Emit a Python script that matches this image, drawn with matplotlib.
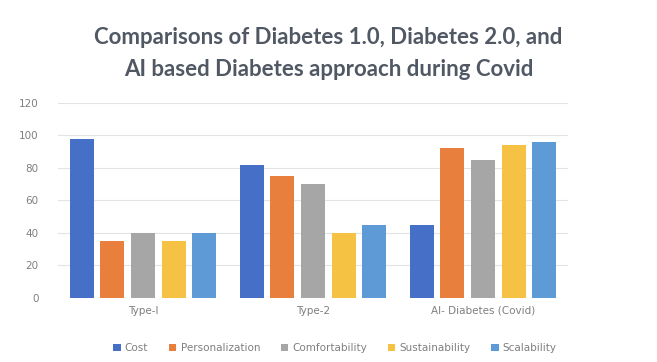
import numpy as np
import matplotlib
matplotlib.use("Agg")
import matplotlib.pyplot as plt

# data
categories = ['Type-I', 'Type-2', 'AI- Diabetes (Covid)']
series = ['Cost', 'Personalization', 'Comfortability', 'Sustainability', 'Scalability']
cost = [98, 82, 45]
personalization = [35, 75, 92]
comfortability = [40, 70, 85]
sustainability = [35, 40, 94]
scalability = [40, 45, 96]
colors = ['#4670C8', '#E97F3C', '#A6A6A6', '#F5C243', '#5E9AD6']

values = [cost, personalization, comfortability, sustainability, scalability]

fig = plt.figure(figsize=(6.57, 3.62), dpi=100)
ax = fig.add_axes([58/657, 1 - 297.5/362, 510/657, 194.5/362])

x = np.arange(len(categories))
width = 0.142
pitch = 0.18
for i, (name, vals) in enumerate(zip(series, values)):
    ax.bar(x + (i - 2) * pitch, vals, width=width, color=colors[i], label=name, zorder=3)

ax.set_xlim(-0.5, 2.5)
ax.set_ylim(0, 120)
ax.set_yticks(range(0, 121, 20))
ax.set_xticks(x)
ax.set_xticklabels(categories)
ax.grid(axis='y', color='#E3E3E3', lw=0.8, zorder=0)
for s in ax.spines.values():
    s.set_visible(False)
ax.tick_params(length=0, labelsize=7.5, labelcolor='#7F7F7F')
ax.tick_params(axis='y', pad=14)
ax.tick_params(axis='x', pad=6)

fig.text(0.5, 1 - 38/362, 'Comparisons of Diabetes 1.0, Diabetes 2.0, and',
         ha='center', va='center', fontsize=16, fontweight='bold', color='#505864', family='Lato')
fig.text(0.5, 1 - 70/362, 'AI based Diabetes approach during Covid',
         ha='center', va='center', fontsize=16, fontweight='bold', color='#505864', family='Lato')

fig.legend(loc='center', bbox_to_anchor=(0.51, 1 - 348/362), ncol=5, frameon=False,
           fontsize=7.5, labelcolor='#7F7F7F', handlelength=0.7, handleheight=0.7,
           handletextpad=0.4, columnspacing=2.0)

fig.savefig('out.png', dpi=100)
